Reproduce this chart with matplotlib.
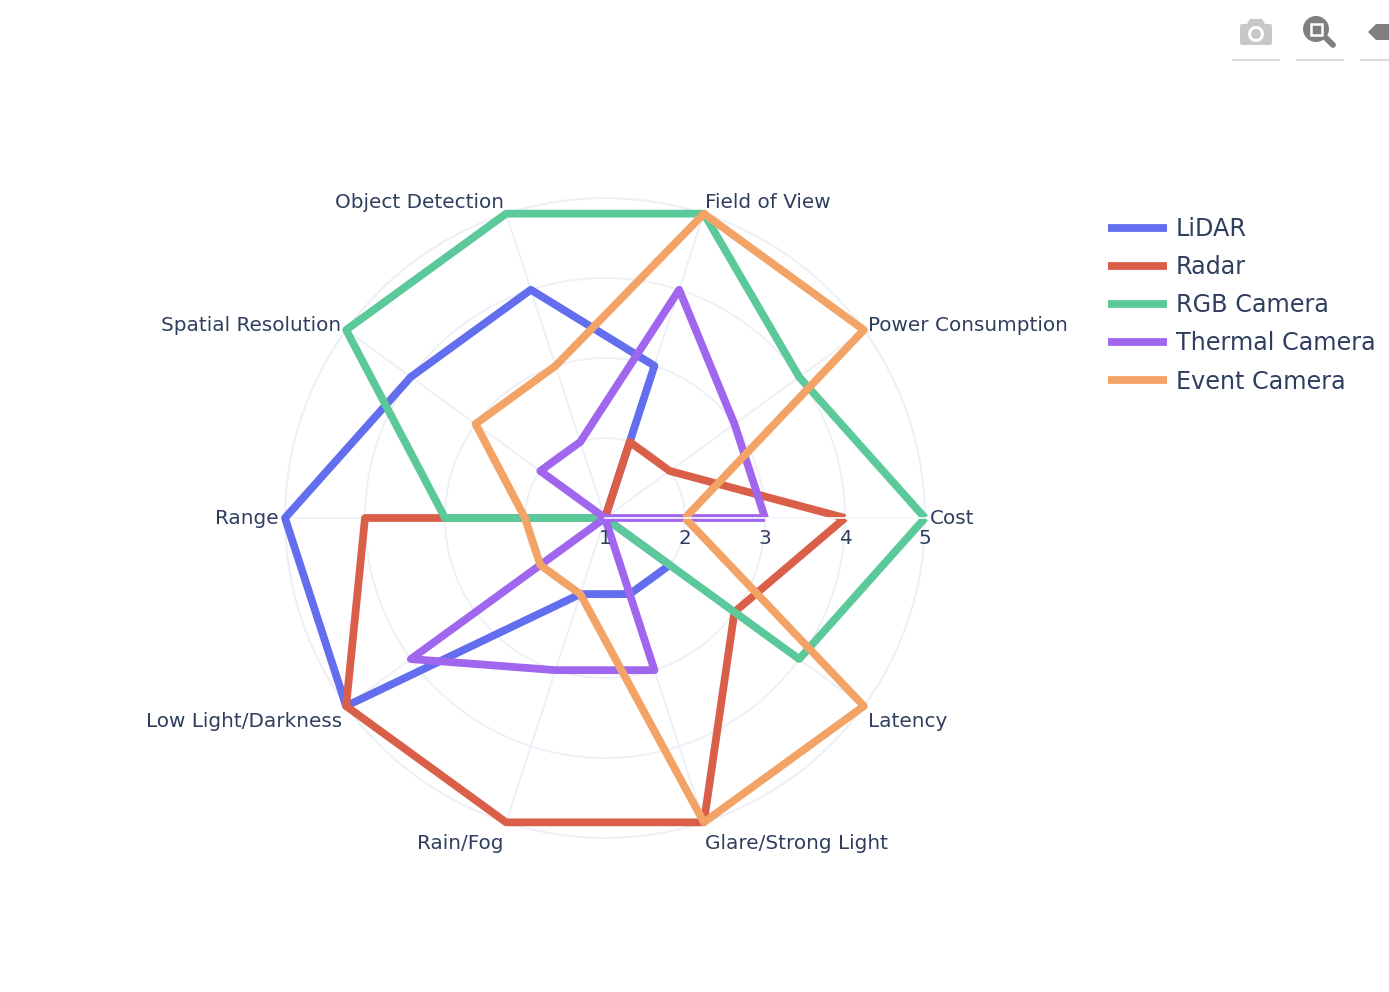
# radar chart of sensor modalities
import numpy as np
import matplotlib
matplotlib.use('Agg')
import matplotlib.pyplot as plt
from matplotlib.patches import Circle, FancyBboxPatch, Polygon, Rectangle

categories = ['Cost', 'Power Consumption', 'Field of View', 'Object Detection',
              'Spatial Resolution', 'Range', 'Low Light/Darkness', 'Rain/Fog',
              'Glare/Strong Light', 'Latency']
lidar = [1, 1, 3, 4, 4, 5, 5, 2, 2, 2]
radar = [4, 2, 2, 1, 1, 4, 5, 5, 5, 3]
rgb = [5, 4, 5, 5, 5, 3, 1, 1, 1, 4]
thermal = [3, 3, 4, 2, 2, 1, 4, 3, 3, 1]
event = [2, 5, 5, 3, 3, 2, 2, 2, 5, 5]
r_ticks = [1, 2, 3, 4, 5]

series = [('LiDAR', lidar, '#636EEF'),
          ('Radar', radar, '#DA5F49'),
          ('RGB Camera', rgb, '#5CC99B'),
          ('Thermal Camera', thermal, '#A166EE'),
          ('Event Camera', event, '#F2A365')]

text_col = '#2F3E5E'
grid_col = '#EEF0F7'
plt.rcParams['font.family'] = 'DejaVu Sans'

W, H = 1389, 992
fig = plt.figure(figsize=(W / 100, H / 100), dpi=100)
ax = fig.add_axes([(605 - 320) / W, (H - 518 - 320) / H, 640 / W, 640 / H],
                  projection='polar')

theta = np.deg2rad(np.arange(len(categories)) * 36.0)
ax.set_rlim(1, 5)
ax.set_xticks(theta)
ax.set_xticklabels([])
ax.set_yticks(r_ticks)
ax.set_yticklabels([])
ax.grid(True, color=grid_col, lw=1.4)
ax.spines['polar'].set_color(grid_col)
ax.spines['polar'].set_linewidth(1.4)
ax.tick_params(length=0)

handles = []
for name, vals, col in series:
    t = np.append(theta, theta[0])
    v = list(vals) + [vals[0]]
    ln, = ax.plot(t, v, color=col, lw=5.6, label=name, clip_on=False,
                  solid_joinstyle='round', solid_capstyle='butt', zorder=3)
    handles.append(ln)

# thin gap the lines show along the 0 degree axis
ax.plot([0, 0], [1, 5], color='#FBFBFE', lw=1.2, clip_on=False, zorder=4)

# category labels, offset in pixels from the outer ring
offsets = [(5, 0), (4, 4), (1, 11), (-2, 11), (-5, 4), (-6, 0), (-4, -15),
           (-3, -21), (1, -21), (4, -15)]
for name, th, off in zip(categories, theta, offsets):
    ax.annotate(name, xy=(th, 5), xytext=off, textcoords='offset pixels',
                ha='left' if off[0] > 0 else 'right', va='center',
                fontsize=14.4, color=text_col, annotation_clip=False, zorder=5)

for rt in r_ticks:
    ax.annotate(str(rt), xy=(0, rt), xytext=(0, -20), textcoords='offset pixels',
                ha='center', va='center', fontsize=14.4, color=text_col,
                annotation_clip=False, zorder=5)

fig.legend(handles=handles, loc='upper left', bbox_to_anchor=(1101 / W, 1 - 210 / H),
           frameon=False, fontsize=17.2, labelcolor=text_col, handlelength=2.47,
           handletextpad=0.37, labelspacing=0.59, borderpad=0.3, borderaxespad=0)

# modebar icons in pixel coordinates
bar = fig.add_axes([0, 0, 1, 1], facecolor='none')
bar.set_xlim(0, W)
bar.set_ylim(H, 0)
bar.axis('off')
bar.add_patch(FancyBboxPatch((1240, 24), 32, 21, boxstyle='round,pad=0,rounding_size=2',
                             fc='#C8C8C8', ec='none'))
bar.add_patch(Polygon([(1247, 24), (1250, 19), (1262, 19), (1265, 24)], fc='#C8C8C8', ec='none'))
bar.add_patch(Circle((1256, 34), 8, fc='white', ec='none'))
bar.add_patch(Circle((1256, 34), 5, fc='#C8C8C8', ec='none'))
bar.add_patch(Circle((1316, 29), 13, fc='#7F7F7F', ec='none'))
bar.add_patch(Rectangle((1310.5, 23.5), 11, 11, fc='#7F7F7F', ec='white', lw=1.8))
bar.plot([1326, 1333], [38, 45], color='#7F7F7F', lw=4.2, solid_capstyle='round')
bar.add_patch(Polygon([(1368, 32), (1376, 24), (1389, 24), (1389, 40), (1376, 40)],
                      fc='#7F7F7F', ec='none'))
for x0, x1 in [(1232, 1280), (1296, 1344), (1360, 1389)]:
    bar.plot([x0, x1], [60, 60], color='#DCDCDC', lw=1.5, solid_capstyle='butt')

fig.savefig('out.png', dpi=100, facecolor='white')
